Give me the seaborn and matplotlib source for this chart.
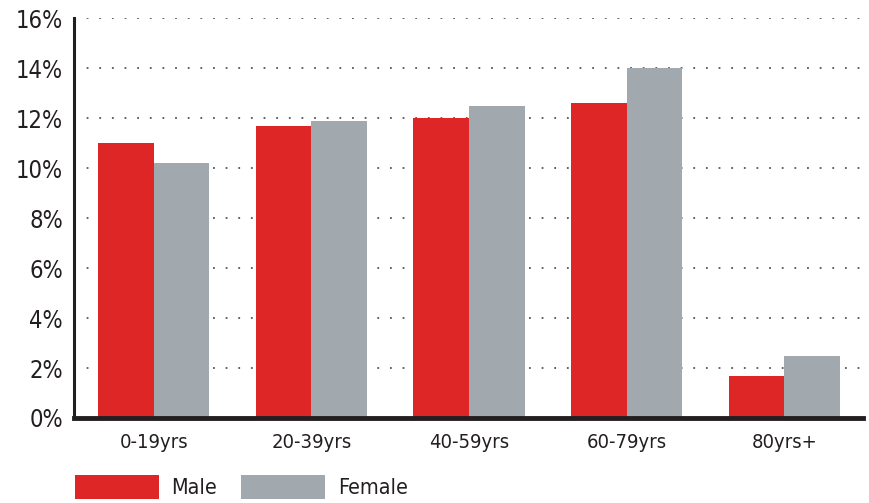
import pandas as pd
import matplotlib.pyplot as plt
import seaborn as sns

# Data
age_groups = ['0-19yrs', '20-39yrs', '40-59yrs', '60-79yrs', '80yrs+']
male = [11.0, 11.7, 12.0, 12.6, 1.7]
female = [10.2, 11.9, 12.5, 14.0, 2.5]
series = ['Male', 'Female']
yticks = [0, 2, 4, 6, 8, 10, 12, 14, 16]

df = pd.DataFrame({
    'age': age_groups * 2,
    'share': male + female,
    'sex': ['Male'] * len(male) + ['Female'] * len(female),
})

sns.set_style('white')
plt.rcParams['font.family'] = ['DejaVu Sans']
plt.rcParams['font.stretch'] = 'condensed'
text_col = '#231f20'
colors = ['#df2627', '#a1a9ae']

fig = plt.figure(figsize=(8.69, 5.03), dpi=100)
ax = fig.add_axes([0.085, 0.169, 0.908, 0.795])

sns.barplot(data=df, x='age', y='share', hue='sex', hue_order=series,
            palette=colors, saturation=1, width=0.705, ax=ax, zorder=2,
            legend=False, linewidth=0)

ax.set_ylim(0, 16)
ax.set_xlim(-0.508, 4.5)
ax.set_yticks(yticks)
ax.set_yticklabels([f'{t}%' for t in yticks])
for t in yticks[1:]:
    ax.axhline(t, color='#555555', lw=1.3, ls=(0, (1, 6)), zorder=1)

ax.set_xlabel('')
ax.set_ylabel('')
ax.tick_params(axis='y', labelsize=17, colors=text_col, length=0, pad=8)
ax.tick_params(axis='x', labelsize=14.5, colors=text_col, length=0, pad=11)
sns.despine(ax=ax, top=True, right=True)
ax.spines['left'].set_linewidth(2.2)
ax.spines['left'].set_color(text_col)
ax.spines['bottom'].set_linewidth(3.5)
ax.spines['bottom'].set_color(text_col)

handles = [plt.Rectangle((0, 0), 1, 1, color=c, lw=0) for c in colors]
fig.legend(handles, series, loc='upper left', bbox_to_anchor=(0.086, 0.056),
           ncol=2, frameon=False, fontsize=15.5, handlelength=3.9,
           handleheight=1.35, handletextpad=0.6, columnspacing=1.1,
           labelcolor=text_col, borderaxespad=0, borderpad=0)

fig.savefig('out.png', dpi=100)
